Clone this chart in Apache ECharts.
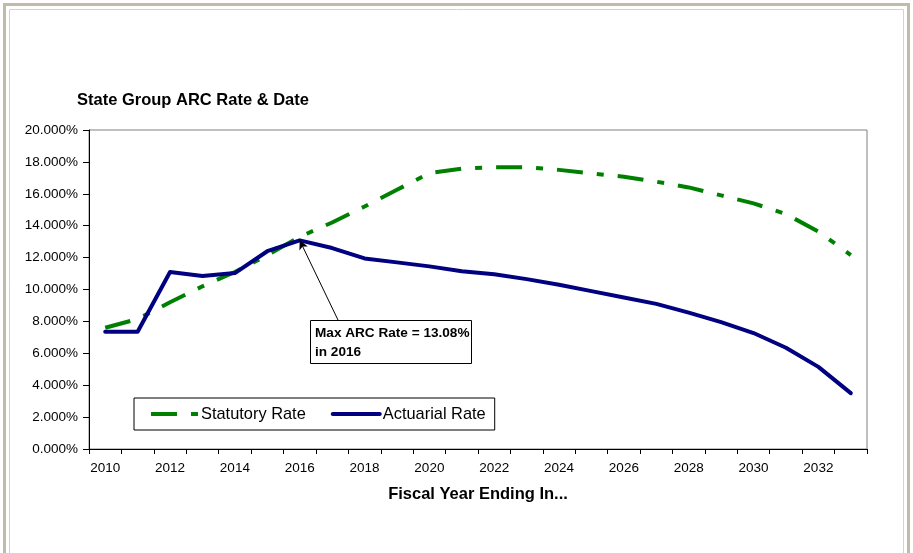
<!DOCTYPE html>
<html>
<head>
<meta charset="utf-8">
<script src="https://cdn.jsdelivr.net/npm/echarts@6/dist/echarts.min.js"></script>
<style>
  html, body { margin: 0; padding: 0; background: #fff; }
  #chart { width: 913px; height: 553px; }
</style>
</head>
<body>
<div id="chart"></div>
<script>
// Fiscal years on the category axis
const years = ['2010','2011','2012','2013','2014','2015','2016','2017','2018','2019','2020','2021',
               '2022','2023','2024','2025','2026','2027','2028','2029','2030','2031','2032','2033'];

// Rates in percent
const statutoryRate = [7.6, 8.15, 9.2, 10.2, 11.1, 12.15, 13.3, 14.2, 15.2, 16.25, 17.3, 17.58,
                       17.66, 17.67, 17.5, 17.28, 17.07, 16.76, 16.4, 15.9, 15.4, 14.73, 13.63, 12.16];
const actuarialRate = [7.35, 7.35, 11.1, 10.85, 11.03, 12.4, 13.08, 12.6, 11.95, 11.7, 11.45, 11.15,
                       10.95, 10.65, 10.3, 9.9, 9.5, 9.1, 8.55, 7.95, 7.27, 6.35, 5.15, 3.5];

// Peak of the actuarial curve, called out in the note
const maxYear = '2016';
const maxRate = 13.08;

const FONT = "'Liberation Sans', Arial, sans-serif";

const chart = echarts.init(document.getElementById('chart'));

chart.setOption({
  backgroundColor: '#ffffff',
  animation: false,
  textStyle: { fontFamily: FONT, color: '#000' },
  title: {
    text: 'State Group ARC Rate & Date',
    left: 77, top: 92, padding: 0,
    textStyle: { fontFamily: FONT, fontSize: 16.5, fontWeight: 'bold', color: '#000' }
  },
  grid: {
    left: 89, right: 46, top: 130, bottom: 104,
    show: true, borderColor: '#808080', borderWidth: 1, backgroundColor: '#fff'
  },
  legend: {
    left: 134, top: 398,
    padding: [8, 9, 8, 15],
    itemWidth: 47, itemHeight: 18, itemGap: 25,
    borderColor: '#000', borderWidth: 1, backgroundColor: '#fff',
    itemStyle: { opacity: 0 },
    lineStyle: { width: 4 },
    textStyle: { fontFamily: FONT, fontSize: 16.4, color: '#000', padding: [0, 0, 0, -2] },
    data: ['Statutory Rate', 'Actuarial Rate']
  },
  xAxis: {
    type: 'category',
    data: years,
    boundaryGap: true,
    name: 'Fiscal Year Ending In...',
    nameLocation: 'middle',
    nameGap: 37,
    nameTextStyle: { fontFamily: FONT, fontSize: 16.5, fontWeight: 'bold', color: '#000' },
    axisLine: { lineStyle: { color: '#000', width: 1 } },
    axisTick: { show: true, interval: 0, length: 5, lineStyle: { color: '#000' } },
    axisLabel: { interval: 1, margin: 12, fontFamily: FONT, fontSize: 13.5, color: '#000' },
    splitLine: { show: false }
  },
  yAxis: {
    type: 'value',
    min: 0, max: 20, interval: 2,
    axisLine: { show: true, lineStyle: { color: '#000', width: 1 } },
    axisTick: { show: true, length: 6, lineStyle: { color: '#000' } },
    axisLabel: {
      margin: 11, fontFamily: FONT, fontSize: 13.5, color: '#000',
      formatter: v => v.toFixed(3) + '%'
    },
    splitLine: { show: false }
  },
  series: [
    {
      name: 'Statutory Rate',
      type: 'line',
      data: statutoryRate,
      symbol: 'none',
      lineStyle: { color: '#008000', width: 4, type: [26, 14, 7, 14], cap: 'butt' },
      itemStyle: { color: '#008000' },
      z: 2
    },
    {
      name: 'Actuarial Rate',
      type: 'line',
      data: actuarialRate,
      symbol: 'none',
      lineStyle: { color: '#000080', width: 4, join: 'round', cap: 'round' },
      itemStyle: { color: '#000080' },
      z: 3,
      markLine: {
        silent: true,
        animation: false,
        label: { show: false },
        lineStyle: { color: '#000', width: 1, type: 'solid' },
        symbolSize: [7, 9],
        data: [[
          { coord: [maxYear, maxRate], symbol: 'arrow' },
          { x: 338, y: 320, symbol: 'none' }
        ]]
      }
    }
  ],
  graphic: [
    // outer frame of the sheet
    { type: 'rect', z: 100, silent: true,
      shape: { x: 4.5, y: 4.5, width: 904, height: 570 },
      style: { fill: 'none', stroke: '#c2baab', lineWidth: 3 } },
    { type: 'rect', z: 100, silent: true,
      shape: { x: 9.5, y: 9.5, width: 894, height: 570 },
      style: { fill: 'none', stroke: '#d8d3c8', lineWidth: 1 } },
    // note box for the peak
    { type: 'group', z: 50, left: 310, top: 320, children: [
      { type: 'rect', shape: { x: 0.5, y: 0.5, width: 161, height: 43 },
        style: { fill: '#fff', stroke: '#000', lineWidth: 1 } },
      { type: 'text', x: 5, y: 4,
        style: { text: 'Max ARC Rate = ' + maxRate.toFixed(2) + '%\nin ' + maxYear,
                 font: 'bold 13.6px ' + FONT, fill: '#000', lineHeight: 19 } }
    ]}
  ]
});
</script>
</body>
</html>
